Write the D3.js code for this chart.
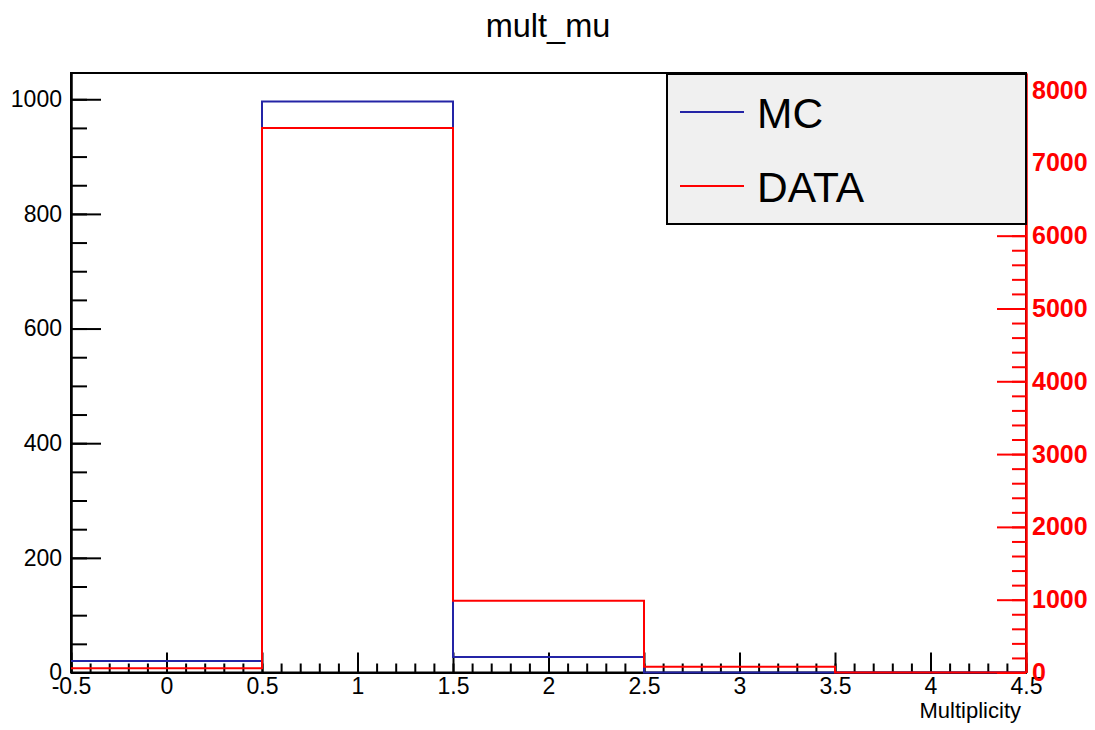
<!DOCTYPE html>
<html>
<head>
<meta charset="utf-8">
<title>mult_mu</title>
<script src="https://d3js.org/d3.v7.min.js"></script>
<style>
  body { margin: 0; background: #fff; }
  text { font-family: "Liberation Sans", Arial, Helvetica, sans-serif; }
</style>
</head>
<body>
<div id="my_dataviz"></div>
<script>
// bin edges on the x axis (Multiplicity)
var binEdges = [-0.5, 0.5, 1.5, 2.5, 3.5, 4.5];
// MC counts per bin (left axis)
var mcCounts = [20, 996, 27, 0, 0];
// DATA counts per bin (right red axis)
var dataCounts = [58, 7479, 986, 80, 0];
// tick labels
var xTicks = [-0.5, 0, 0.5, 1, 1.5, 2, 2.5, 3, 3.5, 4, 4.5];
var leftTicks = [0, 200, 400, 600, 800, 1000];
var rightTicks = [0, 1000, 2000, 3000, 4000, 5000, 6000, 7000, 8000];
var legendNames = ["MC", "DATA"];

var W = 1095, H = 730;
var frame = {left: 71, right: 1026, top: 73, bottom: 672.5};
var blue = "#2424a6", red = "#ff0000";

var svg = d3.select("#my_dataviz")
  .append("svg")
    .attr("width", W)
    .attr("height", H);

// scales
var x = d3.scaleLinear().domain([-0.5, 4.5]).range([frame.left, frame.right]);
var yL = d3.scaleLinear().domain([0, 1.05 * d3.max(mcCounts)]).range([frame.bottom, frame.top]);
var yR = d3.scaleLinear().domain([0, 1.101 * d3.max(dataCounts)]).range([frame.bottom, frame.top]);

var plain = function(d) { return String(d); };

// title
svg.append("text")
  .attr("x", 548).attr("y", 37)
  .attr("text-anchor", "middle")
  .style("font-size", "32.5px")
  .text("mult_mu");

// frame
svg.append("rect")
  .attr("x", frame.left).attr("y", frame.top)
  .attr("width", frame.right - frame.left)
  .attr("height", frame.bottom - frame.top)
  .attr("fill", "none").attr("stroke", "#000").attr("stroke-width", 2);

// minor ticks helper
function minorValues(step, lo, hi) {
  var out = [];
  for (var v = lo; v <= hi + 1e-9; v += step) out.push(Math.round(v * 1000) / 1000);
  return out;
}

function styleAxis(g, color) {
  g.selectAll("path").attr("stroke", color).attr("stroke-width", 2);
  g.selectAll("line").attr("stroke", color).attr("stroke-width", 2);
}

// X axis (ticks pointing up into the frame)
var gxMinor = svg.append("g").attr("transform", "translate(0," + frame.bottom + ")")
  .call(d3.axisBottom(x).tickValues(minorValues(0.1, -0.5, 4.5)).tickSizeInner(-9).tickSizeOuter(0).tickFormat(""));
styleAxis(gxMinor, "#000");
var gx = svg.append("g").attr("transform", "translate(0," + frame.bottom + ")")
  .call(d3.axisBottom(x).tickValues(xTicks).tickSizeInner(-20).tickSizeOuter(0).tickPadding(5).tickFormat(plain));
styleAxis(gx, "#000");
gx.selectAll("text").style("font-size", "23px").attr("fill", "#000");

svg.append("text")
  .attr("x", 1021).attr("y", 718)
  .attr("text-anchor", "end")
  .style("font-size", "22px")
  .text("Multiplicity");

// left axis
var glMinor = svg.append("g").attr("transform", "translate(" + frame.left + ",0)")
  .call(d3.axisLeft(yL).tickValues(minorValues(50, 0, 1040)).tickSizeInner(-16).tickSizeOuter(0).tickFormat(""));
styleAxis(glMinor, "#000");
var gl = svg.append("g").attr("transform", "translate(" + frame.left + ",0)")
  .call(d3.axisLeft(yL).tickValues(leftTicks).tickSizeInner(-30).tickSizeOuter(0).tickPadding(9).tickFormat(plain));
styleAxis(gl, "#000");
gl.selectAll("text").style("font-size", "23px").attr("fill", "#000");

// histograms as step outlines
function stepPath(counts, y) {
  var pts = [];
  counts.forEach(function(c, i) {
    pts.push([x(binEdges[i]), y(c)]);
    pts.push([x(binEdges[i + 1]), y(c)]);
  });
  return d3.line()(pts);
}

svg.append("path")
  .attr("d", stepPath(mcCounts, yL))
  .attr("fill", "none").attr("stroke", blue).attr("stroke-width", 2);

svg.append("path")
  .attr("d", stepPath(dataCounts, yR))
  .attr("fill", "none").attr("stroke", red).attr("stroke-width", 2);

// right axis in red
var grMinor = svg.append("g").attr("transform", "translate(" + frame.right + ",0)")
  .call(d3.axisRight(yR).tickValues(minorValues(200, 0, 8200)).tickSizeInner(-14).tickSizeOuter(0).tickFormat(""));
styleAxis(grMinor, red);
var gr = svg.append("g").attr("transform", "translate(" + frame.right + ",0)")
  .call(d3.axisRight(yR).tickValues(rightTicks).tickSizeInner(-29).tickSizeOuter(0).tickPadding(6).tickFormat(plain));
styleAxis(gr, red);
gr.selectAll("text").style("font-size", "25px").style("font-weight", "bold").attr("fill", red);

// legend
var leg = svg.append("g");
leg.append("rect")
  .attr("x", 667).attr("y", 74)
  .attr("width", 359).attr("height", 150)
  .attr("fill", "#f0f0f0").attr("stroke", "#000").attr("stroke-width", 2);

var legColors = [blue, red];
var legY = [112, 186];
legendNames.forEach(function(name, i) {
  leg.append("line")
    .attr("x1", 680).attr("x2", 744)
    .attr("y1", legY[i]).attr("y2", legY[i])
    .attr("stroke", legColors[i]).attr("stroke-width", 2);
  leg.append("text")
    .attr("x", 757).attr("y", legY[i] + 16)
    .style("font-size", "42.5px")
    .text(name);
});
</script>
</body>
</html>
